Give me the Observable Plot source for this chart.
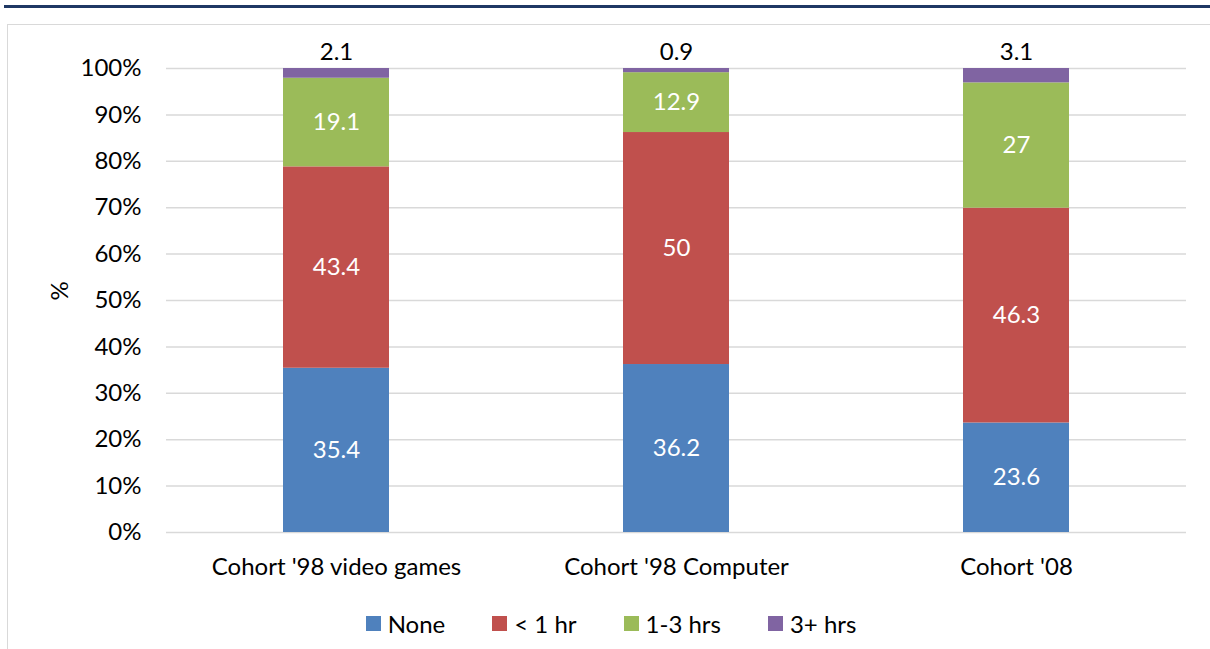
<!DOCTYPE html>
<html>
<head>
<meta charset="utf-8">
<script src="https://cdn.jsdelivr.net/npm/d3@7"></script>
<script src="https://cdn.jsdelivr.net/npm/@observablehq/plot@0.6"></script>
<style>
  html, body { margin: 0; padding: 0; background: #fff; }
  body { width: 1210px; height: 649px; position: relative; overflow: hidden; font-family: Lato, "Open Sans", sans-serif; }
  #topline { position: absolute; left: 4px; top: 5px; width: 1206px; height: 3px; background: #1f3864; }
  #frame { position: absolute; left: 7px; top: 24px; width: 1220px; height: 700px; border-left: 1.5px solid #d9d9d9; border-top: 1.5px solid #d9d9d9; }
  #chart { position: absolute; left: 0; top: 0; }
  #legend { position: absolute; left: 0; top: 609px; width: 1222px; display: flex; justify-content: center; gap: 47px; font-size: 24px; color: #000; }
  .item { display: flex; align-items: center; }
  .sw { width: 15px; height: 15px; margin-right: 7px; }
</style>
</head>
<body>
<div id="topline"></div>
<div id="frame"></div>
<div id="chart"></div>
<div id="legend"></div>
<script>
const cohorts = ["Cohort '98 video games", "Cohort '98 Computer", "Cohort '08"];
const seriesNames = ["None", "< 1 hr", "1-3 hrs", "3+ hrs"];
const noneValues = [35.4, 36.2, 23.6];
const lt1Values = [43.4, 50, 46.3];
const h13Values = [19.1, 12.9, 27];
const h3pValues = [2.1, 0.9, 3.1];
const yTicks = [0, 10, 20, 30, 40, 50, 60, 70, 80, 90, 100];
const colors = ["#4f81bd", "#c0504d", "#9bbb59", "#8064a2"];

const seriesValues = [noneValues, lt1Values, h13Values, h3pValues];
const data = [];
seriesNames.forEach((s, si) => {
  cohorts.forEach((c, ci) => data.push({cohort: c, series: s, value: seriesValues[si][ci]}));
});
const innerData = data.filter(d => d.series !== "3+ hrs");
const topData = data.filter(d => d.series === "3+ hrs");

const FS = 24;
const chart = Plot.plot({
  width: 1210,
  height: 600,
  marginTop: 68,
  marginBottom: 68,
  marginLeft: 166,
  marginRight: 24,
  style: {fontFamily: "Lato, 'Open Sans', sans-serif", fontSize: FS + "px", color: "#000", background: "transparent"},
  x: {domain: cohorts, paddingInner: 0.688, paddingOuter: 0.344, label: null},
  y: {domain: [0, 100], label: null},
  color: {domain: seriesNames, range: colors},
  marks: [
    Plot.gridY(yTicks, {stroke: "#d9d9d9", strokeOpacity: 1, strokeWidth: 1.5}),
    Plot.barY(data, Plot.stackY({x: "cohort", y: "value", fill: "series", order: seriesNames})),
    Plot.text(innerData, Plot.stackY({x: "cohort", y: "value", z: "series", order: seriesNames, text: d => String(d.value), fill: "#fff", fontSize: FS})),
    Plot.text(topData, {x: "cohort", y: 100, dy: -16, text: d => String(d.value), fill: "#000", fontSize: FS}),
    Plot.axisX({tickSize: 0, tickPadding: 25, fontSize: FS, label: null}),
    Plot.axisY({ticks: yTicks, tickSize: 0, tickPadding: 25, tickFormat: d => d + "%", fontSize: FS, label: null}),
    Plot.text(["%"], {frameAnchor: "left", dx: -106, rotate: -90, fontSize: FS, fill: "#000"})
  ]
});
document.getElementById("chart").appendChild(chart);

const legend = document.getElementById("legend");
seriesNames.forEach((s, i) => {
  const item = document.createElement("div");
  item.className = "item";
  const sw = document.createElement("div");
  sw.className = "sw";
  sw.style.background = colors[i];
  const lbl = document.createElement("span");
  lbl.textContent = s;
  item.appendChild(sw);
  item.appendChild(lbl);
  legend.appendChild(item);
});
</script>
</body>
</html>
